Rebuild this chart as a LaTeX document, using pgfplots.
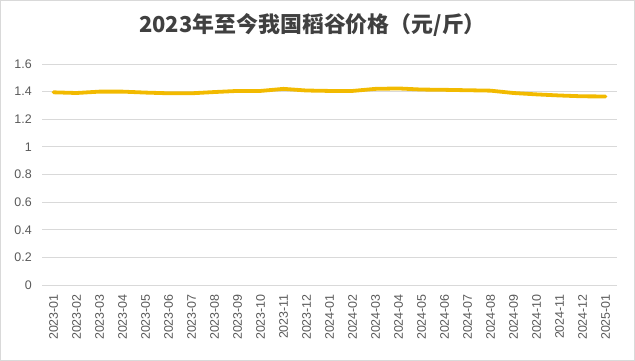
\documentclass[border=0pt]{standalone}
\usepackage{pgfplots}
\pgfplotsset{compat=1.18}
\usepackage{fontspec}
\setmainfont{Liberation Sans}
\newfontfamily\cjk{Noto Sans CJK SC}
\definecolor{linegold}{RGB}{242,186,0}
\definecolor{gridgray}{RGB}{217,217,217}
\definecolor{labgray}{RGB}{89,89,89}
\definecolor{titlegray}{RGB}{64,64,64}
\begin{document}
\begin{tikzpicture}
\draw[gridgray, line width=0.75bp] (0.5bp,0.5bp) rectangle (634.5bp,360.5bp);
\useasboundingbox (0,0) rectangle (635bp,361bp);
\node[font=\cjk\bfseries\fontsize{22}{26}\selectfont, text=titlegray] at (312.5bp,336bp) {2023年至今我国稻谷价格（元/斤）};
\begin{axis}[
  at={(42bp,76bp)}, anchor=south west,
  width=575bp, height=221bp, scale only axis,
  xmin=-0.5, xmax=24.5, ymin=0, ymax=1.6,
  ytick={0,0.2,...,1.6},
  yticklabel style={/pgf/number format/fixed, /pgf/number format/precision=1},
  xtick={0,...,24},
  xticklabels={2023-01,2023-02,2023-03,2023-04,2023-05,2023-06,2023-07,2023-08,2023-09,2023-10,2023-11,2023-12,2024-01,2024-02,2024-03,2024-04,2024-05,2024-06,2024-07,2024-08,2024-09,2024-10,2024-11,2024-12,2025-01},
  x tick label style={rotate=90, anchor=east, font=\fontsize{12.5}{14}\selectfont, text=labgray, inner sep=0pt},
  y tick label style={font=\fontsize{12.5}{14}\selectfont, text=labgray, inner sep=0pt},
  /pgf/number format/assume math mode=true,
  ymajorgrids, grid style={gridgray, line width=0.75bp},
  axis line style={draw=none},
  major tick length=0pt,
  xticklabel shift=9bp,
  yticklabel shift=10bp,
  clip=false,
]
\addplot[linegold, line width=3.8bp, line join=round, line cap=round] coordinates {
(0,1.395) (1,1.39) (2,1.40) (3,1.40) (4,1.393) (5,1.388) (6,1.388) (7,1.397) (8,1.405) (9,1.405) (10,1.42) (11,1.408)
(12,1.405) (13,1.405) (14,1.42) (15,1.423) (16,1.415) (17,1.413) (18,1.41) (19,1.407) (20,1.39) (21,1.38) (22,1.372) (23,1.366) (24,1.365)
};
\end{axis}
\end{tikzpicture}
\end{document}
